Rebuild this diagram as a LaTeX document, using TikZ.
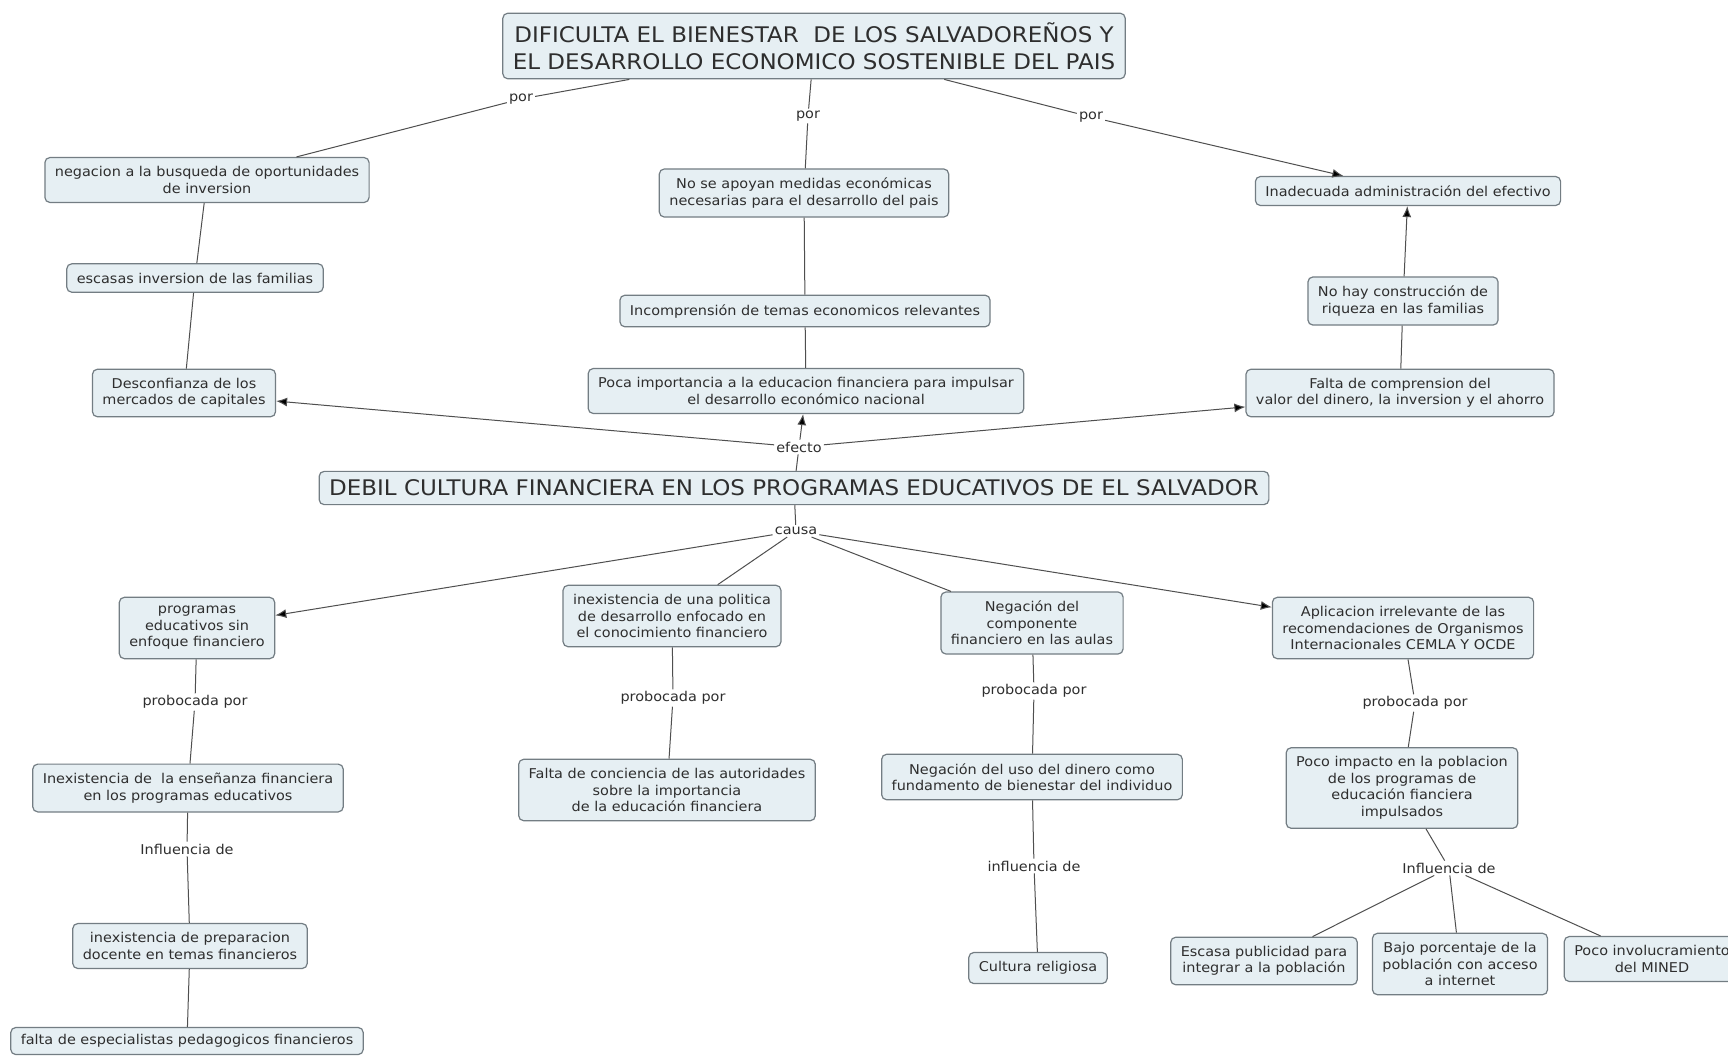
\documentclass[tikz,border=0pt]{standalone}
\usepackage{fontspec}
\setmainfont{DejaVu Sans}[FakeStretch=1.07]
\usetikzlibrary{arrows.meta}
\definecolor{conceptfill}{HTML}{E6EFF3}
\definecolor{conceptdraw}{HTML}{737D83}
\definecolor{ink}{HTML}{2E2E2E}
\definecolor{linkgray}{HTML}{4F4F4F}

\begin{document}
\begin{tikzpicture}[
  x=1pt, y=-1pt,
  font=\fontsize{13.5}{16.5}\selectfont,
  >=Latex,
  concept/.style={draw=conceptdraw, fill=conceptfill, rounded corners=5pt,
    line width=1.2pt, align=center, inner xsep=10pt, inner ysep=9pt, text=ink},
  headline/.style={concept, font=\fontsize{21.5}{27.5}\selectfont, inner xsep=10pt},
  linkword/.style={inner sep=2pt, text=ink},
  link/.style={draw=linkgray, line width=1pt},
  arrow/.style={link, -{Latex[length=11pt, width=9pt, fill=black]}}
]
\useasboundingbox[fill=white] (0,0) rectangle (1728,1055);

% efectos
\node[headline] (dificulta) at (814,46)
  {DIFICULTA EL BIENESTAR\ \ DE LOS SALVADOREÑOS Y\\ EL DESARROLLO ECONOMICO SOSTENIBLE DEL PAIS};
\node[linkword] (por1) at (521,99) {por};
\node[linkword] (por2) at (808,116) {por};
\node[linkword] (por3) at (1091,117) {por};

\node[concept] (negacion) at (207,180)
  {negacion a la busqueda de oportunidades\\de inversion};
\node[concept] (escasas) at (195,278) {escasas inversion de las familias};
\node[concept] (desconfianza) at (184,393)
  {Desconfianza de los\\mercados de capitales};

\node[concept] (medidas) at (804,193)
  {No se apoyan medidas económicas\\necesarias para el desarrollo del pais};
\node[concept] (incomprension) at (805,311)
  {Incomprensión de temas economicos relevantes};
\node[concept] (importancia) at (806,391)
  {Poca importancia a la educacion financiera para impulsar\\el desarrollo económico nacional};

\node[concept] (efectivo) at (1408,191) {Inadecuada administración del efectivo};
\node[concept] (riqueza) at (1403,301)
  {No hay construcción de\\riqueza en las familias};
\node[concept] (comprension) at (1400,393)
  {Falta de comprension del\\valor del dinero, la inversion y el ahorro};

% problema central
\node[linkword] (efecto) at (799,447) {efecto};
\node[headline, inner ysep=8.5pt] (debil) at (794,488)
  {DEBIL CULTURA FINANCIERA EN LOS PROGRAMAS EDUCATIVOS DE EL SALVADOR};
\node[linkword] (causa) at (796,531) {causa};

% causas
\node[concept] (programas) at (197,628)
  {programas\\educativos sin\\enfoque financiero};
\node[concept] (politica) at (672,616)
  {inexistencia de una politica\\de desarrollo enfocado en\\el conocimiento financiero};
\node[concept] (componente) at (1032,623)
  {Negación del\\componente\\financiero en las aulas};
\node[concept] (aplicacion) at (1403,628)
  {Aplicacion irrelevante de las\\recomendaciones de Organismos\\Internacionales CEMLA Y OCDE};

\node[linkword] (prob1) at (195,702) {probocada por};
\node[linkword] (prob2) at (673,698) {probocada por};
\node[linkword] (prob3) at (1034,691) {probocada por};
\node[linkword] (prob4) at (1415,703) {probocada por};

\node[concept] (ensenanza) at (188,788)
  {Inexistencia de\ \ la enseñanza financiera\\en los programas educativos};
\node[concept] (conciencia) at (667,790)
  {Falta de conciencia de las autoridades\\sobre la importancia\\de la educación financiera};
\node[concept] (dinero) at (1032,777)
  {Negación del uso del dinero como\\fundamento de bienestar del individuo};
\node[concept] (impacto) at (1402,788)
  {Poco impacto en la poblacion\\de los programas de\\educación fianciera\\impulsados};

\node[linkword] (infl1) at (187,849) {Influencia de};
\node[linkword] (infl2) at (1034,866) {influencia de};
\node[linkword] (infl3) at (1449,868) {Influencia de};

\node[concept] (preparacion) at (190,946)
  {inexistencia de preparacion\\docente en temas financieros};
\node[concept, inner ysep=7pt] (especialistas) at (187,1041)
  {falta de especialistas pedagogicos financieros};
\node[concept] (religiosa) at (1038,968) {Cultura religiosa};
\node[concept] (publicidad) at (1264,961)
  {Escasa publicidad para\\integrar a la población};
\node[concept] (internet) at (1460,964)
  {Bajo porcentaje de la\\población con acceso\\a internet};
\node[concept] (mined) at (1652,959) {Poco involucramiento\\del MINED};

% conectores de arriba
\draw[link] (dificulta) -- (por1);
\draw[link] (por1) -- (negacion);
\draw[link] (dificulta) -- (por2);
\draw[link] (por2) -- (medidas);
\draw[link] (dificulta) -- (por3);
\draw[arrow] (por3) -- (efectivo);
\draw[link] (negacion) -- (escasas);
\draw[link] (escasas) -- (desconfianza);
\draw[link] (medidas) -- (incomprension);
\draw[link] (incomprension) -- (importancia);
\draw[arrow] (riqueza) -- (efectivo);
\draw[link] (comprension) -- (riqueza);
\draw[link] (debil) -- (efecto);
\draw[arrow] (efecto) -- (desconfianza);
\draw[arrow] (efecto) -- (importancia);
\draw[arrow] (efecto) -- (comprension);

% conectores de abajo
\draw[link] (debil) -- (causa);
\draw[arrow] (causa) -- (programas);
\draw[link] (causa) -- (politica);
\draw[link] (causa) -- (componente);
\draw[arrow] (causa) -- (aplicacion);
\draw[link] (programas) -- (prob1);
\draw[link] (prob1) -- (ensenanza);
\draw[link] (ensenanza) -- (infl1);
\draw[link] (infl1) -- (preparacion);
\draw[link] (preparacion) -- (especialistas);
\draw[link] (politica) -- (prob2);
\draw[link] (prob2) -- (conciencia);
\draw[link] (componente) -- (prob3);
\draw[link] (prob3) -- (dinero);
\draw[link] (dinero) -- (infl2);
\draw[link] (infl2) -- (religiosa);
\draw[link] (aplicacion) -- (prob4);
\draw[link] (prob4) -- (impacto);
\draw[link] (impacto) -- (infl3);
\draw[link] (infl3) -- (publicidad);
\draw[link] (infl3) -- (internet);
\draw[link] (infl3) -- (mined);

\end{tikzpicture}
\end{document}
